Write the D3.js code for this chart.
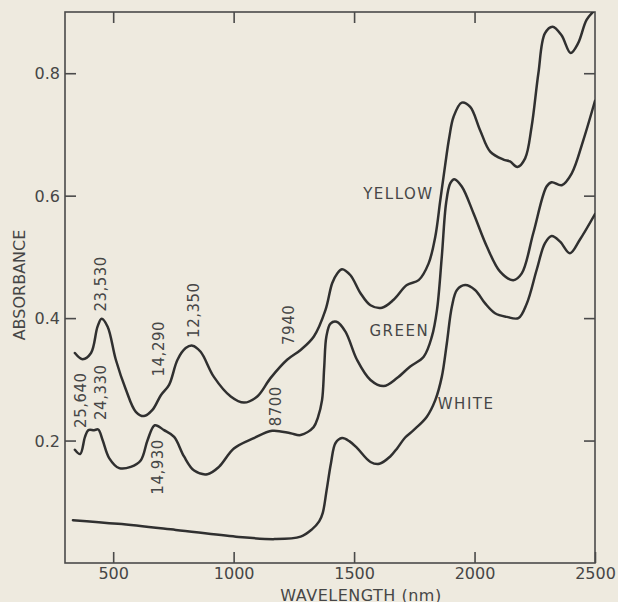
<!DOCTYPE html>
<html>
<head>
<meta charset="utf-8">
<script src="https://cdn.jsdelivr.net/npm/d3@7"></script>
<style>
  html, body { margin: 0; padding: 0; background: #eeeadf; }
  svg { display: block; }
  text { font-family: "DejaVu Sans", sans-serif; fill: #464646; }
</style>
</head>
<body>
<script>
'use strict';

// wavelength (nm) and absorbance
const yellowWl  = [341, 373, 408, 435, 452, 477, 511, 553, 594, 628, 663, 698, 732, 767, 801, 829, 863, 918, 988, 1043, 1098, 1153, 1222, 1278, 1333, 1381, 1409, 1430, 1450, 1485, 1526, 1568, 1616, 1664, 1719, 1768, 1809, 1837, 1858, 1878, 1895, 1913, 1947, 1982, 2023, 2065, 2120, 2147, 2178, 2210, 2237, 2265, 2292, 2324, 2361, 2399, 2430, 2465, 2499];
const yellowAbs = [0.343, 0.333, 0.343, 0.386, 0.399, 0.386, 0.332, 0.283, 0.247, 0.240, 0.250, 0.274, 0.291, 0.332, 0.351, 0.355, 0.345, 0.304, 0.272, 0.262, 0.272, 0.302, 0.332, 0.348, 0.370, 0.413, 0.457, 0.473, 0.480, 0.470, 0.441, 0.421, 0.417, 0.430, 0.454, 0.462, 0.489, 0.533, 0.593, 0.650, 0.695, 0.729, 0.752, 0.745, 0.707, 0.672, 0.659, 0.656, 0.647, 0.661, 0.713, 0.800, 0.865, 0.876, 0.862, 0.833, 0.849, 0.887, 0.903];

const greenWl  = [341, 363, 383, 397, 421, 438, 456, 484, 525, 573, 615, 643, 673, 711, 753, 794, 836, 891, 939, 1001, 1084, 1160, 1236, 1278, 1332, 1350, 1367, 1376, 1385, 1402, 1427, 1464, 1512, 1568, 1623, 1678, 1733, 1789, 1823, 1844, 1864, 1882, 1899, 1916, 1947, 1996, 2051, 2106, 2161, 2196, 2244, 2299, 2320, 2362, 2403, 2451, 2500];
const greenAbs = [0.185, 0.178, 0.206, 0.217, 0.217, 0.218, 0.201, 0.171, 0.155, 0.157, 0.168, 0.201, 0.225, 0.217, 0.206, 0.174, 0.151, 0.145, 0.157, 0.187, 0.204, 0.216, 0.212, 0.209, 0.222, 0.238, 0.266, 0.320, 0.370, 0.391, 0.394, 0.378, 0.332, 0.299, 0.289, 0.302, 0.321, 0.337, 0.370, 0.413, 0.500, 0.588, 0.620, 0.627, 0.615, 0.571, 0.517, 0.476, 0.462, 0.473, 0.539, 0.615, 0.622, 0.617, 0.636, 0.690, 0.755];

const whiteWl  = [333, 520, 760, 1010, 1170, 1278, 1325, 1355, 1370, 1386, 1404, 1423, 1450, 1480, 1512, 1568, 1605, 1650, 1680, 1712, 1747, 1802, 1837, 1864, 1885, 1906, 1927, 1961, 2002, 2044, 2085, 2134, 2182, 2217, 2258, 2292, 2320, 2355, 2396, 2437, 2500];
const whiteAbs = [0.070, 0.064, 0.054, 0.043, 0.039, 0.043, 0.055, 0.068, 0.082, 0.119, 0.163, 0.196, 0.204, 0.199, 0.188, 0.165, 0.162, 0.174, 0.188, 0.205, 0.217, 0.239, 0.266, 0.304, 0.359, 0.419, 0.446, 0.454, 0.446, 0.424, 0.408, 0.402, 0.400, 0.424, 0.479, 0.522, 0.534, 0.525, 0.506, 0.528, 0.570];

const xTicks = [500, 1000, 1500, 2000, 2500];
const yTicks = [0.2, 0.4, 0.6, 0.8];

// band labels (cm-1) and where they sit, in wavelength / absorbance
const bandText = ["25,640", "24,330", "23,530", "14,290", "12,350", "7940", "8700", "14,930"];
const bandWl   = [366, 449, 449, 689, 834, 1228, 1174, 685];
const bandAbs  = [0.266, 0.279, 0.456, 0.350, 0.413, 0.389, 0.256, 0.157];

const seriesNames = ["YELLOW", "GREEN", "WHITE"];
const seriesWl    = [1684, 1688, 1965];
const seriesAbs   = [0.604, 0.379, 0.260];

(function() {
  const width = 618, height = 602;
  const left = 65, right = 595, top = 12, bottom = 563;
  const tickLen = 11;

  const svg = d3.select('body').append('svg')
    .attr('width', width)
    .attr('height', height);

  const xScale = d3.scaleLinear().domain([300, 2500]).range([left, right]);
  const yScale = d3.scaleLinear().domain([0, 0.9]).range([bottom, top]);

  // frame
  svg.append('rect')
    .attr('x', left).attr('y', top)
    .attr('width', right - left).attr('height', bottom - top)
    .attr('fill', 'none')
    .attr('stroke', '#4a4a4a')
    .attr('stroke-width', 1.6);

  // inward ticks on all four sides
  const xAxisBottom = d3.axisBottom(xScale).tickValues(xTicks).tickSize(-tickLen).tickPadding(5)
    .tickFormat(d3.format('d'));
  const gxb = svg.append('g').attr('transform', `translate(0,${bottom})`).call(xAxisBottom);

  const xAxisTop = d3.axisTop(xScale).tickValues(xTicks.slice(0, 4)).tickSize(-tickLen).tickFormat('');
  const gxt = svg.append('g').attr('transform', `translate(0,${top})`).call(xAxisTop);

  const yAxisLeft = d3.axisLeft(yScale).tickValues(yTicks).tickSize(-tickLen).tickPadding(5)
    .tickFormat(d3.format('.1f'));
  const gyl = svg.append('g').attr('transform', `translate(${left},0)`).call(yAxisLeft);

  const yAxisRight = d3.axisRight(yScale).tickValues(yTicks).tickSize(-tickLen).tickFormat('');
  const gyr = svg.append('g').attr('transform', `translate(${right},0)`).call(yAxisRight);

  [gxb, gxt, gyl, gyr].forEach((g) => {
    g.select('.domain').remove();
    g.selectAll('line').attr('stroke', '#4a4a4a').attr('stroke-width', 1.6);
    g.selectAll('text')
      .style('font-family', '"DejaVu Sans", sans-serif')
      .style('font-size', '16px')
      .attr('fill', '#464646');
  });
  gyl.selectAll('text').attr('dy', '0.36em');

  // axis titles
  svg.append('text')
    .attr('x', 361)
    .attr('y', 601)
    .attr('text-anchor', 'middle')
    .style('font-size', '16px')
    .style('letter-spacing', '0.5px')
    .text('WAVELENGTH (nm)');

  svg.append('text')
    .attr('transform', 'translate(19, 285)rotate(-90)')
    .attr('text-anchor', 'middle')
    .attr('dy', '0.36em')
    .style('font-size', '16px')
    .text('ABSORBANCE');

  // curves
  svg.append('clipPath').attr('id', 'plotClip')
    .append('rect')
    .attr('x', left).attr('y', top)
    .attr('width', right - left).attr('height', bottom - top);

  const line = d3.line()
    .x((d) => xScale(d[0]))
    .y((d) => yScale(d[1]))
    .curve(d3.curveCatmullRom.alpha(0.5));

  const series = [
    d3.zip(yellowWl, yellowAbs),
    d3.zip(greenWl, greenAbs),
    d3.zip(whiteWl, whiteAbs)
  ];

  svg.append('g').attr('clip-path', 'url(#plotClip)')
    .selectAll('path')
    .data(series)
    .enter()
    .append('path')
      .attr('d', line)
      .attr('fill', 'none')
      .attr('stroke', '#303030')
      .attr('stroke-width', 2.5)
      .attr('stroke-linejoin', 'round')
      .attr('stroke-linecap', 'round');

  // series names
  svg.selectAll('.series-name')
    .data(seriesNames)
    .enter()
    .append('text')
      .attr('class', 'series-name')
      .attr('x', (d, i) => xScale(seriesWl[i]))
      .attr('y', (d, i) => yScale(seriesAbs[i]))
      .attr('dy', '0.36em')
      .attr('text-anchor', 'middle')
      .style('font-size', '15px')
      .style('letter-spacing', '1.5px')
      .text((d) => d);

  // band positions, written sideways
  svg.selectAll('.band')
    .data(bandText)
    .enter()
    .append('text')
      .attr('class', 'band')
      .attr('transform', (d, i) => `translate(${xScale(bandWl[i])},${yScale(bandAbs[i])})rotate(-90)`)
      .attr('dy', '0.36em')
      .attr('text-anchor', 'middle')
      .style('font-size', '15px')
      .style('letter-spacing', '0.5px')
      .text((d) => d);
})();
</script>
</body>
</html>
